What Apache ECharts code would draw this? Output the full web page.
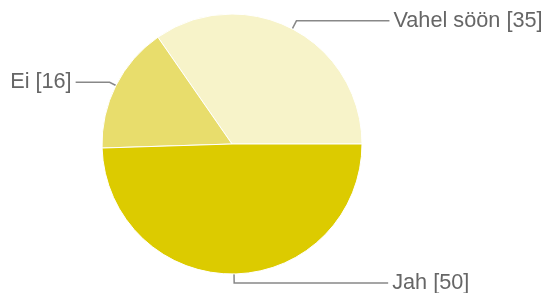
<!DOCTYPE html>
<html>
<head>
<meta charset="utf-8">
<script src="https://cdn.jsdelivr.net/npm/echarts@6/dist/echarts.min.js"></script>
<style>html,body{margin:0;padding:0;background:#fff}#c{width:549px;height:293px}</style>
</head>
<body>
<div id="c"></div>
<script>
const categories = ['Vahel söön', 'Ei', 'Jah'];
const values = [35, 16, 50];
const colors = ['#f7f3c9', '#e8dd6c', '#dccb00'];
const lineLen = [9, 7, 9];
const lineLen2 = [93, 34, 154];

const chart = echarts.init(document.getElementById('c'), null, {renderer: 'canvas'});
chart.setOption({
  animation: false,
  series: [{
    type: 'pie',
    center: [232, 144],
    radius: 130,
    startAngle: 0,
    clockwise: false,
    avoidLabelOverlap: false,
    itemStyle: {borderColor: '#fff', borderWidth: 1},
    label: {
      formatter: '{b} [{c}]',
      fontSize: 21.7,
      color: '#666',
      fontFamily: 'Arial, "Liberation Sans", sans-serif',
      bleedMargin: 0,
      overflow: 'none',
      distanceToLabelLine: 4
    },
    labelLine: {lineStyle: {color: '#888', width: 1.5}},
    emphasis: {disabled: true},
    data: categories.map((n, i) => ({
      name: n,
      value: values[i],
      itemStyle: {color: colors[i]},
      labelLine: {length: lineLen[i], length2: lineLen2[i], lineStyle: {color: '#888', width: 1.5}}
    }))
  }]
});
</script>
</body>
</html>
